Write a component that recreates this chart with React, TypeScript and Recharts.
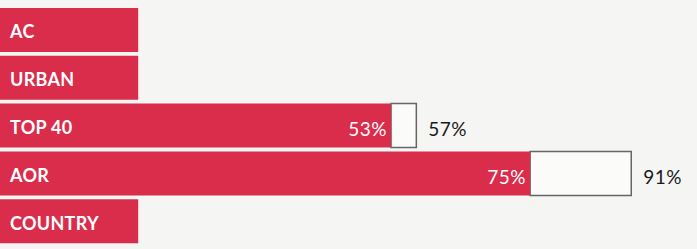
import { BarChart, Bar, XAxis, YAxis, LabelList } from "recharts";

const formats = ["AC", "URBAN", "TOP 40", "AOR", "COUNTRY"];
const shares = [null, null, 53, 75, null];
const totals = [null, null, 57, 91, null];

// axis runs a little below zero so the name tabs sit left of the 0% line
const AXIS_MIN = -8.86;
const AXIS_MAX = 101.4;
const TAB_END = 13;

const data = formats.map((name, i) => ({
  name,
  share: shares[i],
  total: totals[i],
  red: [AXIS_MIN, shares[i] ?? TAB_END],
  rest: totals[i] == null ? null : [shares[i], totals[i]],
}));

const RED = "#da2c4b";
const BG = "#f5f5f3";
const pct = (v: any) => (v == null ? "" : `${v}%`);

export default function App() {
  return (
    <div style={{ position: "absolute", left: 0, top: 0, width: 697, height: 249, background: BG }}>
      <BarChart
        width={697}
        height={249}
        data={data}
        layout="vertical"
        margin={{ top: 6, right: 0, bottom: 4, left: 0 }}
        barSize={44}
        barGap={-44}
      >
        <XAxis type="number" hide domain={[AXIS_MIN, AXIS_MAX]} allowDataOverflow />
        <YAxis type="category" dataKey="name" hide />
        <Bar dataKey="rest" fill="#fbfbfa" stroke="#666" strokeWidth={1.5} isAnimationActive={false}>
          <LabelList
            dataKey="total"
            position="right"
            offset={12}
            formatter={pct}
            fill="#1a1a1a"
            fontSize={19}
            fontFamily="Lato"
            letterSpacing={0.5}
            dy={4}
          />
        </Bar>
        <Bar dataKey="red" fill={RED} isAnimationActive={false}>
          <LabelList
            dataKey="name"
            position="insideLeft"
            offset={10}
            fill="#ffffff"
            fontSize={18}
            fontWeight={700}
            fontFamily="Lato"
            letterSpacing={0.3}
            dy={2}
          />
          <LabelList
            dataKey="share"
            position="insideRight"
            offset={4}
            formatter={pct}
            fill="#ffffff"
            fontSize={19}
            fontFamily="Lato"
            letterSpacing={0.5}
            dy={4}
          />
        </Bar>
      </BarChart>
    </div>
  );
}
